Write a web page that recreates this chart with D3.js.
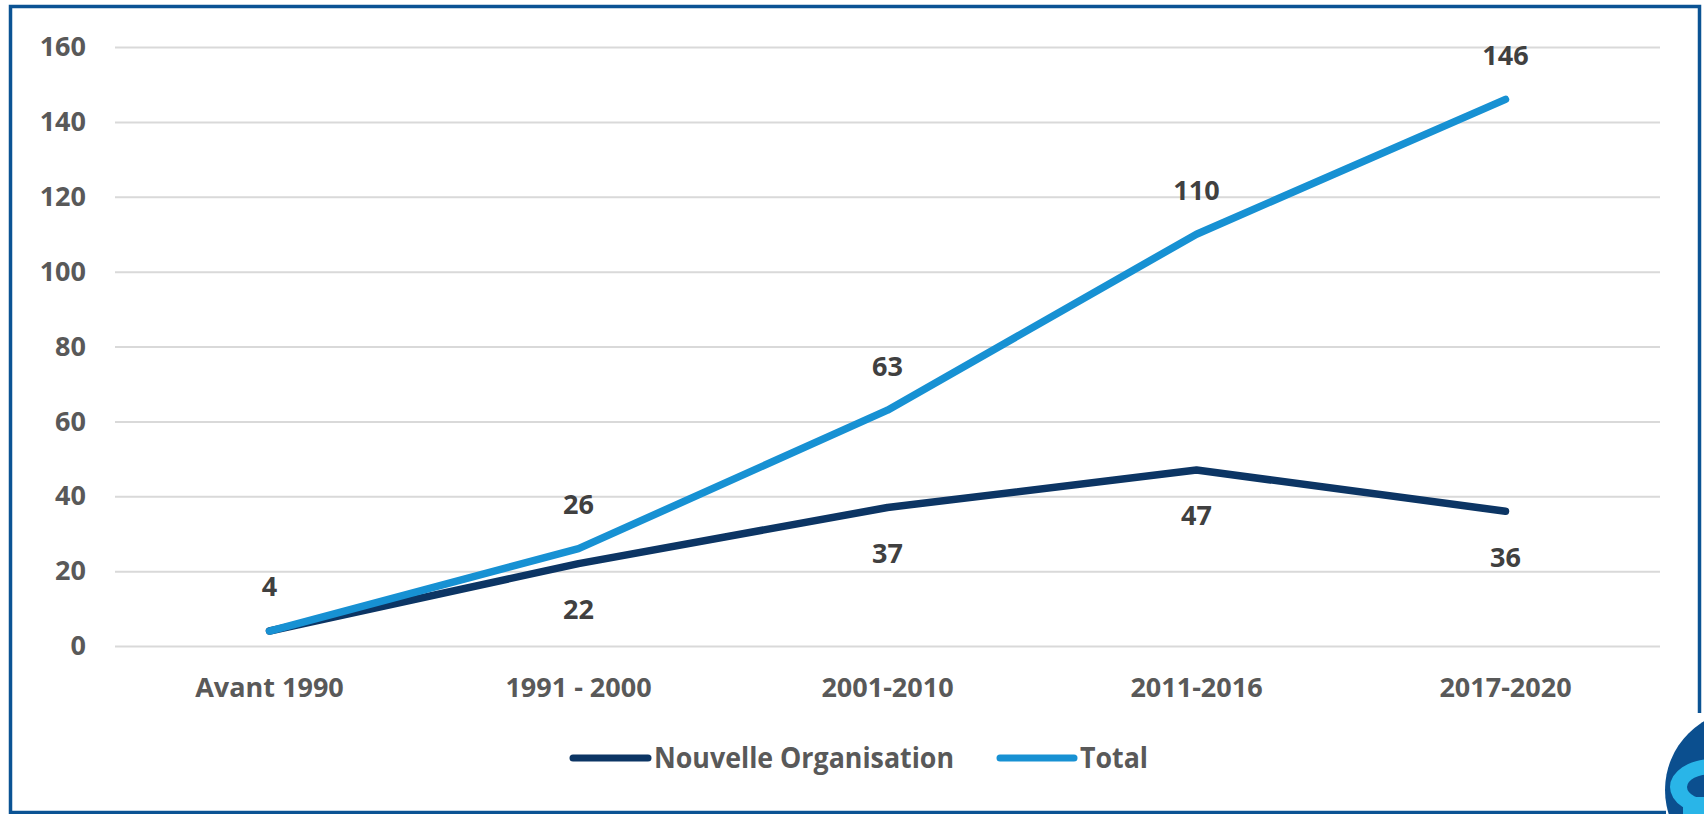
<!DOCTYPE html>
<html>
<head>
<meta charset="utf-8">
<script src="https://cdn.jsdelivr.net/npm/d3@7"></script>
<style>
  html, body { margin: 0; padding: 0; background: #ffffff; }
  svg { display: block; }
  text { font-family: "Open Sans", "Liberation Sans", sans-serif; font-weight: 700; }
</style>
</head>
<body>
<svg id="chart" width="1704" height="814"></svg>
<script>
const categories = ["Avant 1990", "1991 - 2000", "2001-2010", "2011-2016", "2017-2020"];
const nouvelleOrganisation = [4, 22, 37, 47, 36];
const total = [4, 26, 63, 110, 146];
const yTicks = [0, 20, 40, 60, 80, 100, 120, 140, 160];
const seriesNames = ["Nouvelle Organisation", "Total"];
const seriesColors = ["#0c3564", "#1791d3"];

const svg = d3.select("#chart");
const plotLeft = 115, plotRight = 1660, plotTop = 47, plotBottom = 646;

// frame
svg.append("path")
  .attr("d", `M1666,812.5 L10.5,812.5 L10.5,6.5 L1699.5,6.5 L1699.5,713`)
  .attr("fill", "none").attr("stroke", "#0b5394").attr("stroke-width", 3.5);

const x = d3.scaleBand().domain(categories).range([plotLeft, plotRight]);
const cx = d => x(d) + x.bandwidth() / 2;
const y = d3.scaleLinear().domain([0, 160]).range([plotBottom, plotTop]);

// gridlines + y labels
const yAxis = d3.axisLeft(y).tickValues(yTicks).tickSize(-(plotRight - plotLeft)).tickPadding(29);
const gy = svg.append("g").attr("transform", `translate(${plotLeft},0)`).call(yAxis);
gy.select(".domain").remove();
gy.selectAll(".tick line").attr("stroke", "#d9d9d9").attr("stroke-width", 2);
gy.selectAll(".tick text")
  .attr("fill", "#595959").style("font-size", "27px")
  .style("font-family", "'Open Sans', sans-serif").style("font-weight", 700);

// x axis labels
const xAxis = d3.axisBottom(x).tickSize(0).tickPadding(0);
const gx = svg.append("g").attr("transform", `translate(0,${plotBottom})`).call(xAxis);
gx.select(".domain").remove();
gx.selectAll(".tick text")
  .attr("y", 42).attr("dy", "0.35em")
  .attr("fill", "#595959").style("font-size", "27px")
  .style("font-family", "'Open Sans', sans-serif").style("font-weight", 700);

// lines
const line = d3.line().x((d, i) => cx(categories[i])).y(d => y(d));
[nouvelleOrganisation, total].forEach((vals, s) => {
  svg.append("path").datum(vals)
    .attr("d", line)
    .attr("fill", "none")
    .attr("stroke", seriesColors[s])
    .attr("stroke-width", 7.5)
    .attr("stroke-linecap", "round")
    .attr("stroke-linejoin", "round");
});

// data labels
const labelOffset = 44;
svg.append("g").selectAll("text").data(total).join("text")
  .attr("x", (d, i) => cx(categories[i]))
  .attr("y", d => y(d) - labelOffset)
  .attr("dy", "0.35em")
  .attr("text-anchor", "middle")
  .attr("fill", "#404040").style("font-size", "27px")
  .text(d => d);
svg.append("g").selectAll("text")
  .data(nouvelleOrganisation.map((v, i) => ({v, i})).filter(d => d.v !== total[d.i]))
  .join("text")
  .attr("x", d => cx(categories[d.i]))
  .attr("y", d => y(d.v) + labelOffset + 2)
  .attr("dy", "0.35em")
  .attr("text-anchor", "middle")
  .attr("fill", "#404040").style("font-size", "27px")
  .text(d => d.v);

// legend
const legendY = 758;
const legendItems = [
  { x0: 573, x1: 648, tx: 654, len: 300 },
  { x0: 1000, x1: 1074, tx: 1080, len: 68 }
];
const lg = svg.append("g");
legendItems.forEach((it, s) => {
  lg.append("line").attr("x1", it.x0).attr("x2", it.x1).attr("y1", legendY).attr("y2", legendY)
    .attr("stroke", seriesColors[s]).attr("stroke-width", 7).attr("stroke-linecap", "round");
  lg.append("text").attr("x", it.tx).attr("y", legendY).attr("dy", "0.35em")
    .attr("fill", "#595959").style("font-size", "28px")
    .attr("textLength", it.len).attr("lengthAdjust", "spacingAndGlyphs")
    .text(seriesNames[s]);
});

// partial logo at bottom-right corner
const logo = svg.append("g");
logo.append("circle").attr("cx", 1745).attr("cy", 790).attr("r", 80).attr("fill", "#0b4f8f");
logo.append("path")
  .attr("d", "M1670,787 a42,28 0 1,0 84,0 a42,28 0 1,0 -84,0 Z M1687,787 a25,13 0 1,0 50,0 a25,13 0 1,0 -50,0 Z")
  .attr("fill-rule", "evenodd")
  .attr("fill", "#29b5e8");
logo.append("rect").attr("x", 1683).attr("y", 797).attr("width", 30).attr("height", 18).attr("fill", "#29b5e8");
</script>
</body>
</html>
